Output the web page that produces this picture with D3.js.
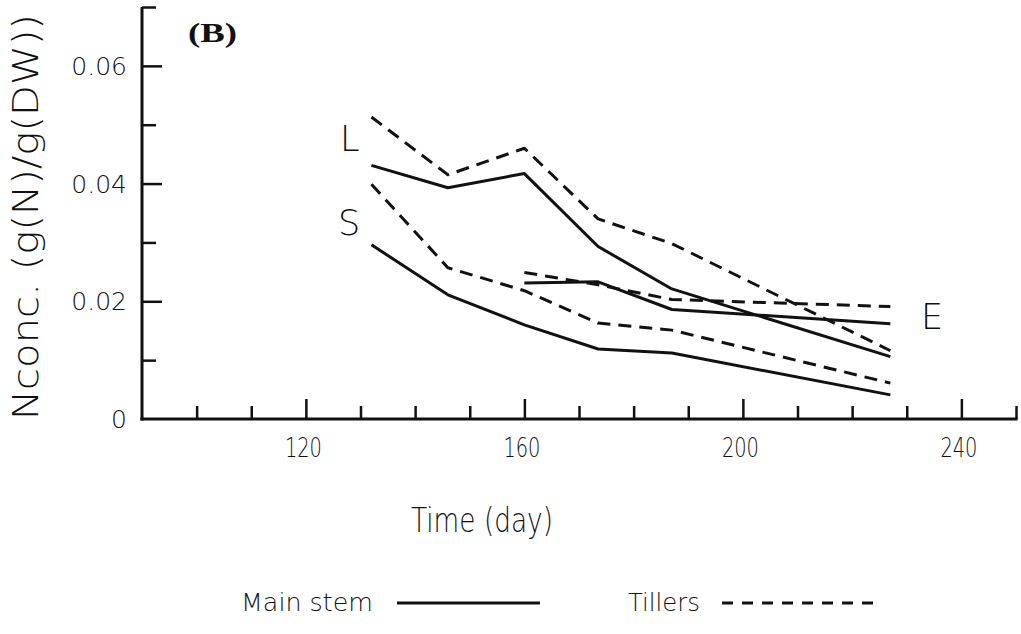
<!DOCTYPE html>
<html>
<head>
<meta charset="utf-8">
<script src="https://cdn.jsdelivr.net/npm/d3@7"></script>
<style>
  html, body { margin: 0; padding: 0; background: #fff; }
  svg { display: block; }
  .lt { font-family: "DejaVu Sans", "Liberation Sans", sans-serif; font-weight: 200; fill: #111; }
</style>
</head>
<body>
<svg id="chart" width="1021" height="634"></svg>
<script>
// Sampling days (day of year)
const days = [132, 146, 160, 173.5, 187, 227];
const daysE = [160, 173.5, 187, 227];

// N concentration, g(N)/g(DW)
const leafMain    = [0.0431, 0.0393, 0.0417, 0.0293, 0.0221, 0.0106];
const leafTillers = [0.0513, 0.0415, 0.0460, 0.0340, 0.0298, 0.0116];
const stemMain    = [0.0296, 0.0211, 0.0160, 0.0119, 0.0112, 0.0041];
const stemTillers = [0.0399, 0.0257, 0.0218, 0.0163, 0.0151, 0.0061];
const earMain     = [0.0231, 0.0233, 0.0186, 0.0162];
const earTillers  = [0.0249, 0.0228, 0.0203, 0.0191];

const xTicks = [100, 110, 120, 130, 140, 150, 160, 170, 180, 190, 200, 210, 220, 230, 240, 250];
const xLabels = [120, 160, 200, 240];
const yTicks = [0.01, 0.02, 0.03, 0.04, 0.05, 0.06, 0.07];
const yLabels = [0, 0.02, 0.04, 0.06];

const svg = d3.select("#chart");
const x = d3.scaleLinear().domain([90, 250]).range([142, 1016]);
const y = d3.scaleLinear().domain([0, 0.07]).range([419, 7]);

const ink = "#111";

// Axes
const gx = svg.append("g").attr("transform", `translate(0,${y(0)})`)
  .call(d3.axisBottom(x).tickValues(xTicks).tickSizeOuter(0).tickFormat(""));
gx.select(".domain").attr("stroke", ink).attr("stroke-width", 3).attr("d", `M${x(90) - 1.5},0H${x(250) + 1.5}`);
gx.selectAll(".tick line").attr("stroke", ink).attr("stroke-width", 2.5)
  .attr("y2", d => xLabels.includes(d) ? -20 : -13);

const gy = svg.append("g").attr("transform", `translate(${x(90)},0)`)
  .call(d3.axisLeft(y).tickValues(yTicks).tickSizeOuter(0).tickFormat(""));
gy.select(".domain").attr("stroke", ink).attr("stroke-width", 3).attr("d", `M0,${y(0) + 1.5}V${y(0.07)}`);
gy.selectAll(".tick line").attr("stroke", ink).attr("stroke-width", 2.5)
  .attr("x2", d => [0.02, 0.04, 0.06].some(v => Math.abs(v - d) < 1e-9) ? 20 : 14);

// Tick labels
svg.append("g").selectAll("text").data(xLabels).join("text")
  .attr("class", "lt")
  .attr("x", d => x(d) - 21).attr("y", 457)
  .attr("textLength", 37).attr("lengthAdjust", "spacingAndGlyphs")
  .style("font-size", "26px")
  .text(d => d);

svg.append("g").selectAll("text").data(yLabels).join("text")
  .attr("class", "lt")
  .attr("x", 127).attr("y", d => y(d) + 9)
  .attr("text-anchor", "end")
  .style("font-size", "25px")
  .text(d => d === 0 ? "0" : d3.format(".2f")(d));

// Axis titles
svg.append("text").attr("class", "lt")
  .attr("transform", `translate(38,${420}) rotate(-90)`)
  .attr("textLength", 406).attr("lengthAdjust", "spacingAndGlyphs")
  .style("font-size", "35px")
  .text("Nconc. (g(N)/g(DW))");

svg.append("text").attr("class", "lt")
  .attr("x", 411).attr("y", 532)
  .attr("textLength", 142).attr("lengthAdjust", "spacingAndGlyphs")
  .style("font-size", "34px")
  .text("Time (day)");

// Panel tag
svg.append("text")
  .attr("x", 188).attr("y", 42)
  .attr("textLength", 49).attr("lengthAdjust", "spacingAndGlyphs")
  .style("font-family", "'Liberation Serif', 'DejaVu Serif', serif")
  .style("font-weight", "bold").style("font-size", "27px").attr("fill", ink)
  .text("(B)");

// Series
const line = d3.line().x(d => x(d[0])).y(d => y(d[1]));
const series = [
  { xs: days,  ys: leafMain,    dash: null },
  { xs: days,  ys: leafTillers, dash: "13,8" },
  { xs: days,  ys: stemMain,    dash: null },
  { xs: days,  ys: stemTillers, dash: "13,8" },
  { xs: daysE, ys: earMain,     dash: null },
  { xs: daysE, ys: earTillers,  dash: "13,8" }
];
svg.append("g").selectAll("path").data(series).join("path")
  .attr("d", s => line(s.xs.map((d, i) => [d, s.ys[i]])))
  .attr("fill", "none").attr("stroke", ink).attr("stroke-width", 3)
  .attr("stroke-linejoin", "round")
  .attr("stroke-dasharray", s => s.dash);

// Organ labels
const organLabels = [
  { t: "L", x: 340, y: 151 },
  { t: "S", x: 338, y: 235 },
  { t: "E", x: 921, y: 329 }
];
svg.append("g").selectAll("text").data(organLabels).join("text")
  .attr("class", "lt")
  .attr("x", d => d.x).attr("y", d => d.y)
  .style("font-size", "35px")
  .text(d => d.t);

// Legend
const lg = svg.append("g");
lg.append("text").attr("class", "lt").attr("x", 241).attr("y", 611)
  .attr("textLength", 132).attr("lengthAdjust", "spacingAndGlyphs")
  .style("font-size", "25px").text("Main stem");
lg.append("line").attr("x1", 397).attr("x2", 540).attr("y1", 603).attr("y2", 603)
  .attr("stroke", ink).attr("stroke-width", 3);
lg.append("text").attr("class", "lt").attr("x", 628).attr("y", 611)
  .attr("textLength", 72).attr("lengthAdjust", "spacingAndGlyphs")
  .style("font-size", "25px").text("Tillers");
lg.append("line").attr("x1", 722).attr("x2", 877).attr("y1", 603).attr("y2", 603)
  .attr("stroke", ink).attr("stroke-width", 3).attr("stroke-dasharray", "11,9");
</script>
</body>
</html>
